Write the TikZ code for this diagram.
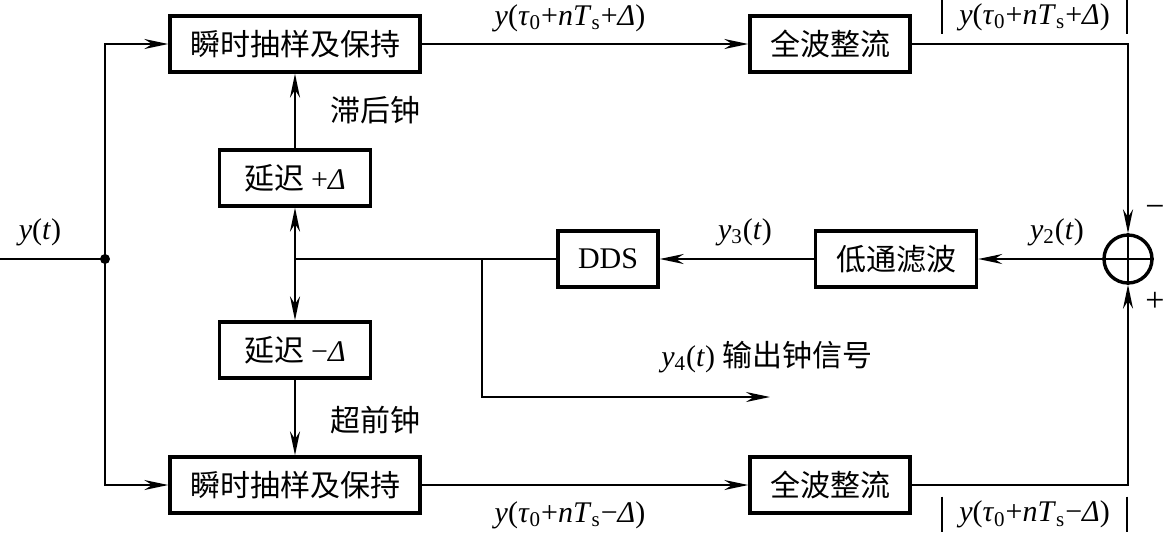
\documentclass[tikz,border=0pt]{standalone}
\usepackage{fontspec}
\setmainfont{Liberation Serif}
\newfontfamily\cjk{Noto Sans CJK SC}
\usepackage{tikz}
\usetikzlibrary{arrows.meta}
\newcommand{\vi}[1]{\textit{#1}}
\newcommand{\sz}{\fontsize{15}{18}\selectfont}

\begin{document}
\begin{tikzpicture}[x=0.5pt,y=-0.5pt,
	blk/.style={draw,line width=1.7pt,minimum height=28pt,inner sep=0pt,font=\cjk\sz},
	sig/.style={line width=1pt},
	arr/.style={sig,-{Stealth[length=12pt,width=5pt]}},
	lbl/.style={inner sep=0pt,font=\sz}]

	\useasboundingbox (0,0) rectangle (1166,532);

	\node[blk,minimum width=125pt] (sh1) at (295,44) {瞬时抽样及保持};
	\node[blk,minimum width=80pt] (fw1) at (830,44) {全波整流};
	\node[blk,minimum width=75.5pt] (dp) at (295,178) {延迟 \rmfamily+\vi{Δ}};
	\node[blk,minimum width=75.5pt] (dm) at (295,350) {延迟 \rmfamily−\vi{Δ}};
	\node[blk,minimum width=125pt] (sh2) at (295,485) {瞬时抽样及保持};
	\node[blk,minimum width=80pt] (fw2) at (830,485) {全波整流};
	\node[blk,minimum width=80.5pt] (lpf) at (896,259) {低通滤波};
	\node[blk,minimum width=50pt,font=\rmfamily\sz] (dds) at (608,259) {DDS};
	\node[draw,circle,line width=1.7pt,minimum size=24pt,inner sep=0pt] (sum) at (1128,259) {};
	\draw[sig] (sum.north) -- (sum.south) (sum.west) -- (sum.east);

	\coordinate (in) at (0,259);
	\coordinate (jn) at (105,259);
	\coordinate (br) at (295,259);
	\coordinate (tap) at (482,259);
	\coordinate (out) at (770,397);

	\draw[sig] (in) -- (jn);
	\fill (jn) circle (2.5pt);
	\draw[arr] (jn) |- (sh1);
	\draw[arr] (jn) |- (sh2);
	\draw[arr] (sh1) -- (fw1);
	\draw[arr] (sh2) -- (fw2);
	\draw[arr] (fw1) -| (sum);
	\draw[arr] (fw2) -| (sum);
	\draw[arr] (sum) -- (lpf);
	\draw[arr] (lpf) -- (dds);
	\draw[sig] (dds) -- (br);
	\draw[arr] (br) -- (dp);
	\draw[arr] (br) -- (dm);
	\draw[arr] (dp) -- (sh1);
	\draw[arr] (dm) -- (sh2);
	\draw[arr] (tap) |- (out);

	\node[lbl] (yt) at (40,232) {\vi{y}(\vi{t})};
	\node[lbl] (y2) at (1057,232) {\vi{y}\textsubscript{2}(\vi{t})};
	\node[lbl] (y3) at (745,232) {\vi{y}\textsubscript{3}(\vi{t})};
	\node[lbl] (y4) at (767,357) {\vi{y}\textsubscript{4}(\vi{t}) {\cjk 输出钟信号}};
	\node[lbl,font=\cjk\sz] (lag) at (375,110) {滞后钟};
	\node[lbl,font=\cjk\sz] (lead) at (375,420) {超前钟};
	\node[lbl] (s1) at (570,18) {\vi{y}(\vi{τ}\textsubscript{0}+\vi{nT}\textsubscript{s}+\vi{Δ})};
	\node[lbl] (s2) at (570,515) {\vi{y}(\vi{τ}\textsubscript{0}+\vi{nT}\textsubscript{s}−\vi{Δ})};
	\node[lbl,minimum width=92.5pt,minimum height=17pt] (a1) at (1034.5,17) {\vi{y}(\vi{τ}\textsubscript{0}+\vi{nT}\textsubscript{s}+\vi{Δ})};
	\node[lbl,minimum width=92.5pt,minimum height=17.5pt] (a2) at (1034.5,514.5) {\vi{y}(\vi{τ}\textsubscript{0}+\vi{nT}\textsubscript{s}−\vi{Δ})};
	\draw[sig] (a1.north west) -- (a1.south west) (a1.north east) -- (a1.south east);
	\draw[sig] (a2.north west) -- (a2.south west) (a2.north east) -- (a2.south east);
	\node[lbl,font=\fontsize{17}{20}\selectfont] (mn) at (1155,211) {−};
	\node[lbl,font=\fontsize{17}{20}\selectfont] (pl) at (1155,302) {+};

\end{tikzpicture}
\end{document}
